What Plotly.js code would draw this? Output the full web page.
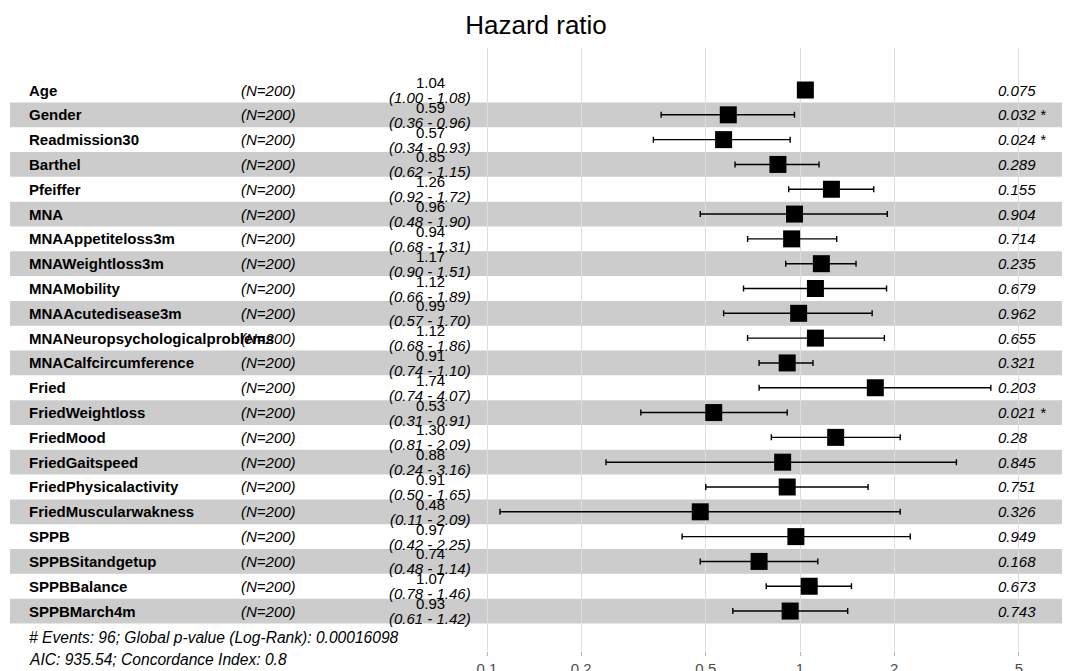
<!DOCTYPE html>
<html>
<head>
<meta charset="utf-8">
<script src="https://cdn.plot.ly/plotly-3.0.1.min.js"></script>
<style>html,body{margin:0;padding:0;background:#fff;}#chart{width:1065px;height:671px;}</style>
</head>
<body>
<div id="chart"></div>
<script>
const variables = ["Age","Gender","Readmission30","Barthel","Pfeiffer","MNA","MNAAppetiteloss3m","MNAWeightloss3m","MNAMobility","MNAAcutedisease3m","MNANeuropsychologicalproblems","MNACalfcircumference","Fried","FriedWeightloss","FriedMood","FriedGaitspeed","FriedPhysicalactivity","FriedMuscularwakness","SPPB","SPPBSitandgetup","SPPBBalance","SPPBMarch4m"];
const nLabels = ["(N=200)","(N=200)","(N=200)","(N=200)","(N=200)","(N=200)","(N=200)","(N=200)","(N=200)","(N=200)","(N=200)","(N=200)","(N=200)","(N=200)","(N=200)","(N=200)","(N=200)","(N=200)","(N=200)","(N=200)","(N=200)","(N=200)"];
const hazardRatio = [1.04,0.59,0.57,0.85,1.26,0.96,0.94,1.17,1.12,0.99,1.12,0.91,1.74,0.53,1.30,0.88,0.91,0.48,0.97,0.74,1.07,0.93];
const ciLower = [1.00,0.36,0.34,0.62,0.92,0.48,0.68,0.90,0.66,0.57,0.68,0.74,0.74,0.31,0.81,0.24,0.50,0.11,0.42,0.48,0.78,0.61];
const ciUpper = [1.08,0.96,0.93,1.15,1.72,1.90,1.31,1.51,1.89,1.70,1.86,1.10,4.07,0.91,2.09,3.16,1.65,2.09,2.25,1.14,1.46,1.42];
const pValues = ["0.075","0.032 *","0.024 *","0.289","0.155","0.904","0.714","0.235","0.679","0.962","0.655","0.321","0.203","0.021 *","0.28","0.845","0.751","0.326","0.949","0.168","0.673","0.743"];
const tickValues = [0.1,0.2,0.5,1,2,5];
const tickLabels = ["0.1","0.2","0.5","1","2","5"];
const footerLines = ["# Events: 96; Global p-value (Log-Rank): 0.00016098","AIC: 935.54; Concordance Index: 0.8"];
const chartTitle = "Hazard ratio";

const W = 1065, H = 671;
const ML = 10, MR = 3, MT = 48, MB = 20;
const plotW = W - ML - MR;
const plotH = H - MT - MB;
const rows = variables.map((v, i) => i + 1);
const FONT = "Liberation Sans, Arial, sans-serif";
const px2paper = p => (p - ML) / plotW;
const py2paper = p => (H - MB - p) / plotH;

const shapes = [];
rows.forEach(r => {
  if (r % 2 === 0) {
    shapes.push({type: "rect", xref: "paper", yref: "y", x0: 0, x1: 1, y0: r - 0.5, y1: r + 0.5,
      fillcolor: "rgba(0,0,0,0.2)", line: {width: 0}, layer: "between"});
  }
});
shapes.push({type: "line", xref: "x", yref: "paper", x0: Math.log10(1), x1: Math.log10(1), y0: 0, y1: 1,
  line: {color: "black", width: 1, dash: "dot"}, layer: "between"});

const annotations = [];
rows.forEach((r, i) => {
  annotations.push({xref: "paper", yref: "y", x: px2paper(27), y: r, xanchor: "left", yanchor: "middle",
    text: "<b>" + variables[i] + "</b>", showarrow: false, font: {family: FONT, size: 15, color: "#000"}});
  annotations.push({xref: "paper", yref: "y", x: px2paper(239), y: r, xanchor: "left", yanchor: "middle",
    text: "<i>" + nLabels[i] + "</i>", showarrow: false, font: {family: FONT, size: 15, color: "#000"}});
  annotations.push({xref: "paper", yref: "y", x: px2paper(430), y: r, xanchor: "center", yanchor: "middle", yshift: 7.5,
    text: hazardRatio[i].toFixed(2), showarrow: false, font: {family: FONT, size: 15, color: "#000"}});
  annotations.push({xref: "paper", yref: "y", x: px2paper(430), y: r, xanchor: "center", yanchor: "middle", yshift: -7.5,
    text: "<i>(" + ciLower[i].toFixed(2) + " - " + ciUpper[i].toFixed(2) + ")</i>", showarrow: false, font: {family: FONT, size: 15, color: "#000"}});
  annotations.push({xref: "paper", yref: "y", x: px2paper(996), y: r, xanchor: "left", yanchor: "middle",
    text: "<i>" + pValues[i] + "</i>", showarrow: false, font: {family: FONT, size: 15, color: "#000"}});
});
const footerY = [637, 659];
footerLines.forEach((t, k) => {
  annotations.push({xref: "paper", yref: "paper", x: px2paper(27), y: py2paper(footerY[k]), xanchor: "left", yanchor: "middle",
    text: "<i>" + t + "</i>", showarrow: false, font: {family: FONT, size: 15.6, color: "#000"}});
});

const trace = {
  type: "scatter", mode: "markers",
  x: hazardRatio, y: rows,
  marker: {symbol: "square", size: 17, color: "black"},
  error_x: {type: "data", symmetric: false,
    array: hazardRatio.map((h, i) => ciUpper[i] - h),
    arrayminus: hazardRatio.map((h, i) => h - ciLower[i]),
    color: "black", thickness: 1.4, width: 3},
  hoverinfo: "skip", showlegend: false, cliponaxis: false
};

const layout = {
  width: W, height: H,
  margin: {l: ML, r: MR, t: MT, b: MB, pad: 0},
  paper_bgcolor: "white", plot_bgcolor: "white",
  title: {text: chartTitle, x: 0.5, xref: "paper", xanchor: "center", y: 1 - 25 / H, yref: "container", yanchor: "middle",
    font: {family: FONT, size: 26, color: "#000"}},
  xaxis: {type: "log", range: [-2.524, 0.837], tickvals: tickValues, ticktext: tickLabels,
    showgrid: true, gridcolor: "#dedede", gridwidth: 1, zeroline: false, showline: false,
    ticks: "outside", ticklen: 4, tickcolor: "#b3b3b3", tickwidth: 1, ticklabelstandoff: 0,
    tickfont: {family: FONT, size: 15, color: "#4d4d4d"}, fixedrange: true, automargin: false},
  yaxis: {range: [23.61, -0.693], visible: false, showgrid: false, zeroline: false, fixedrange: true, automargin: false},
  shapes: shapes,
  annotations: annotations,
  showlegend: false
};

Plotly.newPlot("chart", [trace], layout, {displayModeBar: false, staticPlot: true});
</script>
</body>
</html>
